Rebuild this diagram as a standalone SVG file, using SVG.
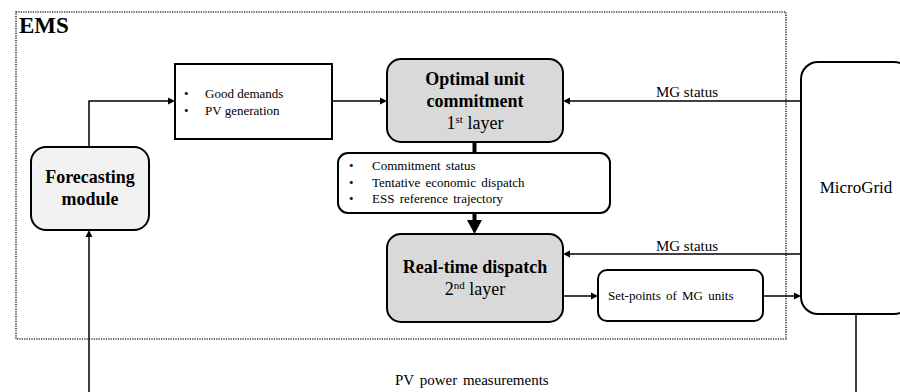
<svg xmlns="http://www.w3.org/2000/svg" width="900" height="392" viewBox="0 0 900 392" font-family="'Times New Roman', 'Liberation Serif', serif">
<rect x="0" y="0" width="900" height="392" fill="#fff"/>
<g id="ems">
<rect x="16" y="12" width="770" height="327" fill="none" stroke="#333" stroke-width="1.6" stroke-dasharray="1.2,1.2"/>
<text font-weight="bold" x="19" y="33" font-size="23">EMS</text>
</g>
<g id="connectors">
<polyline points="89,147 89,101 168,101" stroke="#000" stroke-width="1.5" fill="none"/>
<path d="M168,97.5 L175,101 L168,104.5 Z" fill="#000"/>
<line x1="332" y1="101" x2="381" y2="101" stroke="#000" stroke-width="1.5"/>
<path d="M380,97.5 L387,101 L380,104.5 Z" fill="#000"/>
<line x1="801" y1="101" x2="569" y2="101" stroke="#000" stroke-width="1.5"/>
<path d="M570,97.5 L563,101 L570,104.5 Z" fill="#000"/>
<line x1="474.5" y1="142" x2="474.5" y2="153" stroke="#000" stroke-width="4"/>
<line x1="474.5" y1="213" x2="474.5" y2="221" stroke="#000" stroke-width="4"/>
<path d="M467,220 L482,220 L474.5,234 Z" fill="#000"/>
<line x1="801" y1="254" x2="569" y2="254" stroke="#000" stroke-width="1.5"/>
<path d="M570,250.5 L563,254 L570,257.5 Z" fill="#000"/>
<line x1="563" y1="296" x2="592" y2="296" stroke="#000" stroke-width="1.5"/>
<path d="M591,292.5 L598,296 L591,299.5 Z" fill="#000"/>
<line x1="763" y1="296" x2="795" y2="296" stroke="#000" stroke-width="1.5"/>
<path d="M794,292.5 L801,296 L794,299.5 Z" fill="#000"/>
<line x1="856" y1="314" x2="856" y2="392" stroke="#000" stroke-width="1.5"/>
<line x1="89" y1="392" x2="89" y2="236" stroke="#000" stroke-width="1.5"/>
<path d="M85.5,237 L89,230 L92.5,237 Z" fill="#000"/>
<text x="687" y="97" font-size="15" text-anchor="middle">MG status</text>
<text x="687" y="251" font-size="15" text-anchor="middle">MG status</text>
<text x="395" y="385" font-size="15" word-spacing="2">PV power measurements</text>
</g>
<g id="forecasting">
<rect stroke="#000" stroke-width="2" x="31" y="147" width="118" height="83" rx="15" fill="#f2f2f2"/>
<text font-weight="bold" x="90" y="183" font-size="18" text-anchor="middle">Forecasting</text>
<text font-weight="bold" x="90" y="205" font-size="18" text-anchor="middle">module</text>
</g>
<g id="forecast-data">
<rect stroke="#000" stroke-width="2" x="175" y="64" width="157" height="75" fill="#fff"/>
<text x="184" y="98" font-size="13">•</text>
<text x="205" y="98" font-size="13">Good demands</text>
<text x="184" y="115" font-size="13">•</text>
<text x="205" y="115" font-size="13">PV generation</text>
</g>
<g id="ouc">
<rect stroke="#000" stroke-width="2" x="387" y="59" width="176" height="83" rx="14" fill="#d9d9d9"/>
<text font-weight="bold" x="475" y="85" font-size="18" text-anchor="middle">Optimal unit</text>
<text font-weight="bold" x="475" y="107" font-size="18" text-anchor="middle">commitment</text>
<text x="475" y="129" font-size="18" text-anchor="middle">1<tspan font-size="11" dy="-6">st</tspan><tspan dy="6"> layer</tspan></text>
</g>
<g id="commitment">
<rect stroke="#000" stroke-width="2" x="338" y="153" width="272" height="60" rx="10" fill="#fff"/>
<text x="349" y="170" font-size="13">•</text>
<text x="372" y="170" font-size="13" word-spacing="2">Commitment status</text>
<text x="349" y="187" font-size="13">•</text>
<text x="372" y="187" font-size="13" word-spacing="2">Tentative economic dispatch</text>
<text x="349" y="203" font-size="13">•</text>
<text x="372" y="203" font-size="13" word-spacing="2">ESS reference trajectory</text>
</g>
<g id="rtd">
<rect stroke="#000" stroke-width="2" x="387" y="234" width="176" height="88" rx="14" fill="#d9d9d9"/>
<text font-weight="bold" x="475" y="273" font-size="18" text-anchor="middle">Real-time dispatch</text>
<text x="475" y="295" font-size="18" text-anchor="middle">2<tspan font-size="11" dy="-6">nd</tspan><tspan dy="6"> layer</tspan></text>
</g>
<g id="setpoints">
<rect stroke="#000" stroke-width="2" x="598" y="270" width="165" height="51" rx="9" fill="#fff"/>
<text x="608" y="300" font-size="13" word-spacing="2">Set-points of MG units</text>
</g>
<g id="microgrid">
<rect stroke="#000" stroke-width="2" x="801" y="62" width="110" height="252" rx="17" fill="#fff"/>
<text x="856" y="193" font-size="17" text-anchor="middle">MicroGrid</text>
</g>
</svg>
